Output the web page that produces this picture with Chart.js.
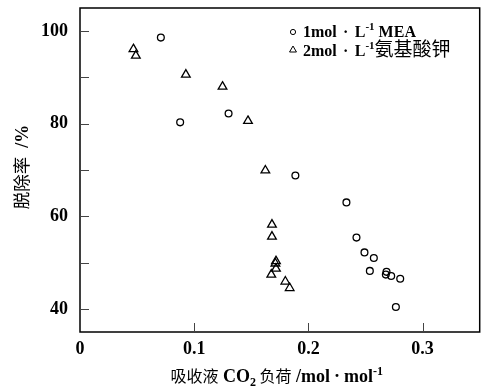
<!DOCTYPE html>
<html>
<head>
<meta charset="utf-8">
<script src="https://cdn.jsdelivr.net/npm/chart.js@4"></script>
<style>
  html, body { margin: 0; padding: 0; background: #fff; }
  canvas { display: block; }
</style>
</head>
<body>
<canvas id="grafico" width="486" height="388"></canvas>
<script>
// 1mol/L MEA
const meaX = [0.0708, 0.0877, 0.1301, 0.1886, 0.2333, 0.2421, 0.2491, 0.2573, 0.2538, 0.2684, 0.2678, 0.2725, 0.2804, 0.2766];
const meaY = [98.6, 80.3, 82.2, 68.8, 63.0, 55.4, 52.2, 51.0, 48.2, 48.0, 47.4, 47.1, 46.5, 40.4];
// 2mol/L 氨基酸钾
const aaX = [0.0468, 0.0489, 0.0927, 0.1248, 0.1471, 0.1623, 0.1681, 0.1681, 0.1716, 0.1711, 0.1716, 0.1675, 0.1798, 0.1836];
const aaY = [96.1, 94.7, 90.6, 88.0, 80.6, 69.9, 58.2, 55.6, 50.3, 49.8, 48.7, 47.4, 45.9, 44.5];

const xTicks = [0, 0.1, 0.2, 0.3];
const yTicks = [40, 60, 80, 100];
const yMinor = [50, 70, 90];

const serif = "'Liberation Serif', 'Noto Sans CJK SC', serif";

// texto por partes (subindices, superindices, punto medio ancho)
function textoRico(ctx, partes, x, y, centrado) {
  const fuente = p => `${p.peso || 'bold'} ${p.tam}px ${serif}`;
  const ancho = p => { ctx.font = fuente(p); return p.w || ctx.measureText(p.t).width; };
  if (centrado) {
    x -= partes.reduce((s, p) => s + ancho(p), 0) / 2;
  }
  ctx.textBaseline = 'alphabetic';
  for (const p of partes) {
    const w = ancho(p);
    if (p.w) {
      ctx.textAlign = 'center';
      ctx.fillText(p.t, x + w / 2, y + (p.dy || 0));
    } else {
      ctx.textAlign = 'left';
      ctx.fillText(p.t, x, y + (p.dy || 0));
    }
    x += w;
  }
}

const marco = {
  id: 'marco',
  afterDraw(chart) {
    const ctx = chart.ctx;
    const { left, right, top, bottom } = chart.chartArea;
    const sx = chart.scales.x, sy = chart.scales.y;
    ctx.save();
    ctx.strokeStyle = '#000';
    ctx.lineWidth = 1.5;
    ctx.strokeRect(left, top, right - left, bottom - top);

    // ticks hacia dentro
    ctx.lineWidth = 1;
    ctx.strokeStyle = '#444';
    ctx.beginPath();
    yTicks.concat(yMinor).forEach(v => {
      const py = Math.round(sy.getPixelForValue(v)) + 0.5;
      ctx.moveTo(left, py);
      ctx.lineTo(left + 9, py);
    });
    xTicks.slice(1).forEach(v => {
      const px = Math.round(sx.getPixelForValue(v)) + 0.5;
      ctx.moveTo(px, bottom);
      ctx.lineTo(px, bottom - 9);
    });
    ctx.stroke();

    ctx.fillStyle = '#000';
    textoRico(ctx, [
      { t: '吸收液', tam: 16, peso: 'normal' },
      { t: ' CO', tam: 18 },
      { t: '2', tam: 12, dy: 4 },
      { t: ' ', tam: 14 },
      { t: '负荷', tam: 16, peso: 'normal' },
      { t: ' /mol', tam: 18 },
      { t: '·', tam: 18, w: 14 },
      { t: 'mol', tam: 18 },
      { t: '-1', tam: 12, dy: -7 }
    ], (left + right) / 2 - 3, 382, true);

    ctx.save();
    ctx.translate(28, 167);
    ctx.rotate(-Math.PI / 2);
    textoRico(ctx, [
      { t: '脱除率', tam: 17.5, peso: 'normal' },
      { t: '  /%', tam: 18 }
    ], 0, 0, true);
    ctx.restore();

    // leyenda
    const filas = [
      { ds: 0, y: 32, base: 37, r: 2.6, partes: [
        { t: '1mol', tam: 16 }, { t: '·', tam: 16, w: 18 }, { t: 'L', tam: 16 },
        { t: '-1', tam: 11, dy: -7 }, { t: ' MEA', tam: 16 }] },
      { ds: 1, y: 50, base: 56, r: 4, partes: [
        { t: '2mol', tam: 16 }, { t: '·', tam: 16, w: 18 }, { t: 'L', tam: 16 },
        { t: '-1', tam: 11, dy: -7 }, { t: '氨基酸钾', tam: 19, peso: 'normal' }] }
    ];
    filas.forEach(f => {
      ctx.fillStyle = '#fff';
      ctx.strokeStyle = '#000';
      ctx.lineWidth = 1;
      Chart.helpers.drawPoint(ctx, {
        pointStyle: chart.data.datasets[f.ds].pointStyle,
        radius: f.r,
        borderWidth: 1
      }, 293, f.y);
      ctx.fillStyle = '#000';
      textoRico(ctx, f.partes, 303, f.base, false);
    });
    ctx.restore();
  }
};

new Chart(document.getElementById('grafico'), {
  type: 'scatter',
  data: {
    datasets: [
      {
        label: '1mol·L-1 MEA',
        data: meaX.map((x, i) => ({ x, y: meaY[i] })),
        pointStyle: 'circle',
        pointRadius: 3.4,
        borderColor: '#000',
        backgroundColor: 'rgba(0,0,0,0)',
        borderWidth: 1.3
      },
      {
        label: '2mol·L-1氨基酸钾',
        data: aaX.map((x, i) => ({ x, y: aaY[i] })),
        pointStyle: 'triangle',
        pointRadius: 5,
        borderColor: '#000',
        backgroundColor: 'rgba(0,0,0,0)',
        borderWidth: 1.3
      }
    ]
  },
  options: {
    responsive: false,
    animation: false,
    devicePixelRatio: 1,
    layout: { padding: { top: 8, right: 6, left: 0, bottom: 0 } },
    plugins: { legend: { display: false }, tooltip: { enabled: false } },
    scales: {
      x: {
        type: 'linear',
        min: 0,
        max: 0.35,
        afterBuildTicks: s => { s.ticks = xTicks.map(v => ({ value: v })); },
        afterFit: s => { s.height = 56; s.paddingLeft = 0; s.paddingRight = 0; },
        grid: { display: true, drawOnChartArea: false, drawTicks: false },
        border: { display: false },
        ticks: {
          padding: 7,
          color: '#000',
          maxRotation: 0,
          font: { family: serif, size: 18, weight: 'bold' },
          callback: v => (v === 0 ? '0' : v.toFixed(1))
        }
      },
      y: {
        min: 35,
        max: 105,
        afterBuildTicks: s => { s.ticks = yTicks.map(v => ({ value: v })); },
        afterFit: s => { s.width = 80; s.paddingTop = 0; s.paddingBottom = 0; },
        grid: { display: true, drawOnChartArea: false, drawTicks: false },
        border: { display: false },
        ticks: {
          padding: 12,
          color: '#000',
          font: { family: serif, size: 18, weight: 'bold' },
          callback: v => String(v)
        }
      }
    }
  },
  plugins: [marco]
});
</script>
</body>
</html>
